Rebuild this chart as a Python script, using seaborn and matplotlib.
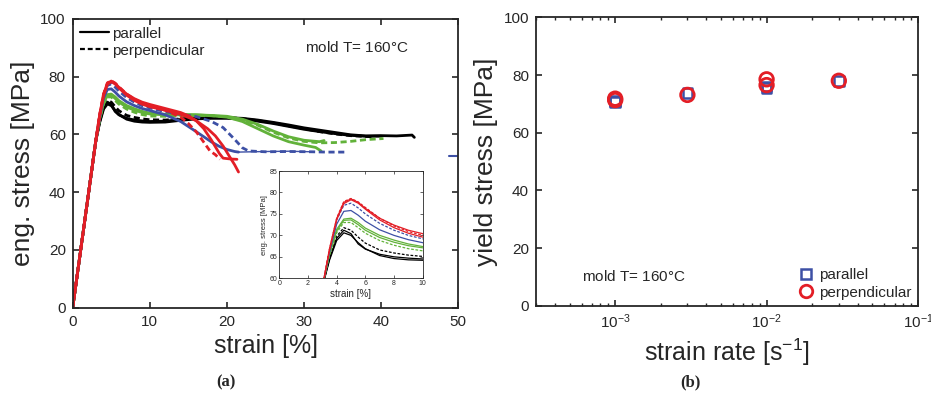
import numpy as np
import pandas as pd
import matplotlib
matplotlib.use('Agg')
import matplotlib.pyplot as plt
import seaborn as sns
from matplotlib.lines import Line2D

# ---------------- data ----------------
rise_strain = [0, 1, 2, 3]
rise_stress = [0, 19.3, 38.6, 57.9]

black_par1_strain = [3.5, 4, 4.5, 5, 5.5, 6, 7, 8, 9, 10, 12, 14, 16, 18, 20, 22, 24, 26, 28, 30, 32, 34, 36, 38, 40, 42, 44, 44.3]
black_par1_stress = [64.5, 69.3, 71.2, 70.4, 68.0, 66.8, 65.6, 65.0, 64.7, 64.5, 64.6, 65.2, 65.6, 65.8, 65.8, 65.6, 65.0, 64.2, 63.3, 62.3, 61.5, 60.7, 59.9, 59.5, 59.6, 59.5, 59.8, 59.0]
black_par2_strain = [3.5, 4, 4.5, 5, 5.5, 6, 7, 8, 9, 10, 12, 14, 16, 18, 20, 22, 24, 26, 28, 30, 32, 34, 36, 38, 40]
black_par2_stress = [64.2, 68.8, 70.6, 70.0, 68.3, 66.9, 65.3, 64.6, 64.3, 64.2, 64.3, 64.9, 65.4, 65.6, 65.6, 65.3, 64.6, 63.8, 62.8, 61.8, 61.0, 60.3, 59.7, 59.4, 59.4]
black_perp_strain = [3.5, 4, 4.5, 5, 5.5, 6, 7, 8, 9, 10, 12, 14, 16, 18, 20, 22, 24, 26, 28, 30, 32, 34, 36, 38, 39]
black_perp_stress = [64.8, 69.8, 71.8, 71.2, 69.6, 68.2, 66.6, 65.9, 65.4, 65.1, 65.0, 65.4, 65.8, 66.0, 65.9, 65.5, 64.8, 64.0, 63.0, 62.0, 61.0, 60.2, 59.6, 59.3, 59.2]

green_par1_strain = [3.5, 4, 4.5, 5, 5.5, 6, 7, 8, 9, 10, 12, 14, 16, 18, 20, 22, 24, 26, 28, 30, 32, 32.6]
green_par1_stress = [65.5, 71.0, 73.5, 73.6, 72.5, 71.2, 69.5, 68.4, 67.6, 67.1, 66.8, 66.8, 66.8, 66.6, 66.3, 65.3, 63.5, 61.2, 59.2, 58.0, 57.5, 57.9]
green_par2_strain = [3.5, 4, 4.5, 5, 5.5, 6, 7, 8, 9, 10, 12, 14, 16, 18, 20, 22, 24, 26, 28, 30, 31.5, 32.2]
green_par2_stress = [65.7, 71.4, 73.8, 74.0, 73.0, 71.7, 70.0, 68.9, 68.0, 67.4, 67.0, 66.9, 66.8, 66.5, 66.0, 64.5, 62.0, 59.5, 57.5, 56.3, 55.5, 54.3]
green_perp_strain = [3.5, 4, 4.5, 5, 5.5, 6, 7, 8, 9, 10, 12, 14, 16, 18, 20, 22, 24, 26, 28, 30, 32, 34, 36, 38, 40.3]
green_perp_stress = [65.3, 70.6, 73.0, 73.0, 71.8, 70.5, 68.8, 67.7, 66.9, 66.4, 66.3, 66.5, 66.6, 66.5, 66.1, 65.0, 63.2, 60.8, 58.8, 57.6, 57.1, 57.2, 57.6, 58.2, 58.6]

blue_par_strain = [3.5, 4, 4.5, 5, 5.5, 6, 7, 8, 9, 10, 12, 14, 16, 17, 18, 19, 20, 21, 21.5]
blue_par_stress = [66.0, 72.6, 75.6, 75.8, 74.7, 73.3, 71.3, 70.0, 69.0, 68.3, 66.8, 64.5, 61.0, 59.2, 57.4, 55.9, 54.8, 54.1, 53.9]
blue_tail_strain = [21.5, 25, 28, 31]
blue_tail_stress = [53.9, 54.1, 54.2, 54.0]
blue_perp_strain = [3.5, 4, 4.5, 5, 5.5, 6, 7, 8, 9, 10, 12, 14, 16, 18, 19.5, 21, 22, 22.8, 25, 28, 31, 33, 35.3]
blue_perp_stress = [66.5, 73.6, 77.0, 77.5, 76.4, 75.0, 72.8, 71.2, 70.0, 69.2, 67.9, 67.0, 66.2, 64.5, 62.4, 58.3, 55.4, 54.3, 54.0, 54.1, 54.0, 53.9, 53.9]
blue_stray_strain = [48.8, 49.8]
blue_stray_stress = [52.4, 52.4]

red_par1_strain = [3.5, 4, 4.5, 5, 5.5, 6, 7, 8, 9, 10, 12, 14, 15, 16, 17, 18, 19, 19.5, 20.5, 21.3]
red_par1_stress = [66.8, 73.9, 77.7, 78.5, 77.7, 76.3, 74.0, 72.4, 71.2, 70.4, 69.0, 67.6, 66.5, 64.8, 62.0, 58.0, 53.5, 51.8, 51.5, 51.4]
red_par2_strain = [3.5, 4, 4.5, 5, 5.5, 6, 7, 8, 9, 10, 12, 14, 16, 17.5, 18.5, 19.5, 20.3, 21, 21.5]
red_par2_stress = [66.6, 73.6, 77.4, 78.3, 77.5, 76.1, 73.6, 71.8, 70.5, 69.6, 68.4, 67.0, 64.8, 62.0, 59.5, 56.0, 52.5, 49.5, 47.0]
red_perp_strain = [3.5, 4, 4.5, 5, 5.5, 6, 7, 8, 9, 10, 12, 14, 15, 16, 16.9, 17.8, 18.5, 19.1]
red_perp_stress = [66.9, 74.0, 77.9, 78.6, 77.8, 76.5, 74.0, 72.2, 70.9, 70.0, 68.4, 66.0, 63.8, 61.0, 57.7, 54.3, 53.0, 51.4]

rate_parallel = [1e-3, 1e-3, 3e-3, 1e-2, 1e-2, 3e-2]
yield_parallel = [70.7, 71.0, 73.7, 75.4, 76.0, 78.0]
rate_perpendicular = [1e-3, 1e-3, 3e-3, 1e-2, 1e-2, 3e-2]
yield_perpendicular = [71.3, 71.8, 73.1, 76.5, 78.5, 78.0]

# ---------------- style ----------------
sns.set_style('ticks')
plt.rcParams['font.family'] = ['Liberation Sans', 'DejaVu Sans']
plt.rcParams['mathtext.fontset'] = 'custom'
plt.rcParams['mathtext.rm'] = 'Liberation Sans'
plt.rcParams['mathtext.it'] = 'Liberation Sans:italic'
plt.rcParams['mathtext.bf'] = 'Liberation Sans:bold'

BLACK = '#000000'
GREEN = '#62b23a'
BLUE = '#3d50a5'
RED = '#e31e26'

fig = plt.figure(figsize=(9.31, 4.0), dpi=100)
ax1 = fig.add_axes([72.7 / 931, 1 - 307.7 / 400, (458.3 - 72.7) / 931, (307.7 - 19) / 400])
ax2 = fig.add_axes([536 / 931, 1 - 305.8 / 400, (918 - 536) / 931, (305.8 - 17.3) / 400])
axin = fig.add_axes([279.3 / 931, 1 - 278.3 / 400, (422.7 - 279.3) / 931, (278.3 - 171) / 400])

DASH = (2.2, 1.3)
curves = [
    (black_par2_strain, black_par2_stress, BLACK, None),
    (black_perp_strain, black_perp_stress, BLACK, DASH),
    (black_par1_strain, black_par1_stress, BLACK, None),
    (green_par1_strain, green_par1_stress, GREEN, None),
    (green_par2_strain, green_par2_stress, GREEN, None),
    (green_perp_strain, green_perp_stress, GREEN, DASH),
    (blue_par_strain, blue_par_stress, BLUE, None),
    (blue_perp_strain, blue_perp_stress, BLUE, DASH),
    (red_par1_strain, red_par1_stress, RED, None),
    (red_par2_strain, red_par2_stress, RED, None),
    (red_perp_strain, red_perp_stress, RED, DASH),
]


def draw(ax, lw):
    for xs, ys, col, dash in curves:
        x = rise_strain + xs
        y = rise_stress + ys
        kw = dict(color=col, lw=lw, sort=False, estimator=None, ax=ax, legend=False)
        line = sns.lineplot(x=x, y=y, **kw)
        if dash is not None:
            line.lines[-1].set_linestyle((0, dash))


draw(ax1, 2.0)
sns.lineplot(x=blue_tail_strain, y=blue_tail_stress, color=BLUE, lw=1.0, sort=False, estimator=None, ax=ax1)
sns.lineplot(x=blue_stray_strain, y=blue_stray_stress, color=BLUE, lw=1.5, sort=False, estimator=None, ax=ax1)
ax1.lines[-1].set_clip_on(False)
draw(axin, 0.9)

# --- main left axes ---
ax1.set_xlim(0, 50)
ax1.set_ylim(0, 100)
ax1.set_xticks([0, 10, 20, 30, 40, 50])
ax1.set_yticks([0, 20, 40, 60, 80, 100])
ax1.set_xlabel('strain [%]', fontsize=18, labelpad=4)
ax1.set_ylabel('eng. stress [MPa]', fontsize=19, labelpad=4)
ax1.text(30.1, 90.3, 'mold T= 160$\\degree$C', fontsize=11, va='center', ha='left')
h_par = Line2D([], [], color='black', lw=1.6)
h_perp = Line2D([], [], color='black', lw=1.6, ls=(0, (2.2, 1.3)))
ax1.legend([h_par, h_perp], ['parallel', 'perpendicular'], loc='upper left', frameon=False,
           fontsize=11, handlelength=1.9, handletextpad=0.2, labelspacing=0.2,
           borderaxespad=0.3, borderpad=0.2)

# --- inset ---
axin.set_xlim(0, 10)
axin.set_ylim(60, 85)
axin.set_xticks([0, 2, 4, 6, 8, 10])
axin.set_yticks([60, 65, 70, 75, 80, 85])
axin.tick_params(labelsize=5, direction='in', length=2, width=0.5, top=True, right=True, pad=1.5)
axin.set_xlabel('strain [%]', fontsize=7, labelpad=1)
axin.set_ylabel('eng. stress [MPa]', fontsize=5.5, labelpad=1)
for s in axin.spines.values():
    s.set_linewidth(0.6)

# --- right axes ---
sns.scatterplot(x=rate_parallel, y=yield_parallel, marker='s', s=50, facecolor='none',
                edgecolor=BLUE, linewidth=1.8, ax=ax2, zorder=3)
sns.scatterplot(x=rate_perpendicular, y=yield_perpendicular, marker='o', s=95, facecolor='none',
                edgecolor=RED, linewidth=2.0, ax=ax2, zorder=4)
ax2.set_xscale('log')
ax2.set_xlim(3e-4, 1e-1)
ax2.set_ylim(0, 100)
ax2.set_yticks([0, 20, 40, 60, 80, 100])
ax2.set_xticks([1e-3, 1e-2, 1e-1])
ax2.set_xlabel('strain rate [s$^{-1}$]', fontsize=18, labelpad=4)
ax2.set_ylabel('yield stress [MPa]', fontsize=19, labelpad=4)
ax2.text(6.0e-4, 10.0, 'mold T= 160$\\degree$C', fontsize=11, va='center', ha='left')
hs = Line2D([], [], marker='s', ls='none', mfc='none', mec=BLUE, ms=7, mew=1.8)
hc = Line2D([], [], marker='o', ls='none', mfc='none', mec=RED, ms=9, mew=2.0)
ax2.legend([hs, hc], ['parallel', 'perpendicular'], loc='lower right', frameon=False,
           fontsize=11, handlelength=1.0, handletextpad=0.4, labelspacing=0.25,
           borderaxespad=0.2, borderpad=0.2)

for ax in (ax1, ax2):
    ax.tick_params(direction='in', length=4, width=1.2, top=True, right=True, labelsize=11, pad=5)
    ax.tick_params(which='minor', direction='in', length=2.5, width=1.0, top=True, right=True)
    for s in ax.spines.values():
        s.set_linewidth(1.3)
        s.set_visible(True)

fig.text(226 / 931, 1 - 382 / 400, '(a)', fontsize=12, fontweight='bold',
         family=['Liberation Serif', 'DejaVu Serif'], ha='center', va='center')
fig.text(690 / 931, 1 - 382 / 400, '(b)', fontsize=12, fontweight='bold',
         family=['Liberation Serif', 'DejaVu Serif'], ha='center', va='center')

fig.savefig('out.png', dpi=100)
